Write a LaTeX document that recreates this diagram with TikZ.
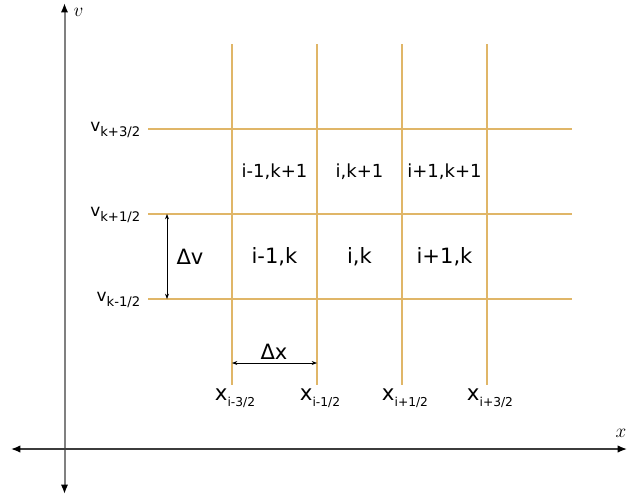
\documentclass[tikz,border=0pt]{standalone}
\usepackage{fontspec}
\setmainfont{DejaVu Sans}
\usetikzlibrary{arrows.meta}
\definecolor{gridc}{RGB}{224,182,104}
\definecolor{axv}{RGB}{128,128,128}
\definecolor{axh}{RGB}{60,60,60}
\newcommand\vlab[1]{\fontsize{12.7}{14}\selectfont v\raisebox{-.5ex}{\fontsize{9.9}{11}\selectfont #1}}
\newcommand\xlab[1]{\fontsize{16}{18}\selectfont x\raisebox{-.5ex}{\fontsize{9.2}{11}\selectfont #1}}
\tikzset{gl/.style={draw=gridc,line width=0.85pt},ax/.style={{Latex[length=7pt,width=5.5pt,black]}-{Latex[length=7pt,width=5.5pt,black]}},dm/.style={{Stealth[length=4pt,width=3pt]}-{Stealth[length=4pt,width=3pt]},line width=0.5pt},big/.style={font=\fontsize{15.8}{18}\selectfont},sm/.style={font=\fontsize{13.5}{16}\selectfont}}

\begin{document}
\begin{tikzpicture}[x=0.75pt,y=-0.75pt]
\useasboundingbox (0,0) rectangle (628,497);
% axes
\coordinate(vb)at(64.5,494);\coordinate(vt)at(64.5,3);
\coordinate(xl)at(11,449);\coordinate(xr)at(627,449);
\draw[ax,axv,line width=1.5pt](vb)--(vt);\draw[ax,axh,line width=1pt](xl)--(xr);
\node[anchor=west,font=\fontsize{14}{15}\selectfont](vax)at(69,12){$v$};
\node[anchor=east,inner sep=1pt,font=\fontsize{14}{15}\selectfont](xax)at(628,433){$x$};
% grid lines
\foreach\y/\n in{129/a,214/b,299/c}{\coordinate(h\n1)at(148,\y);\coordinate(h\n2)at(572,\y);\draw[gl](h\n1)--(h\n2);}
\foreach\x/\n in{232/a,317/b,402/c,487/d}{\coordinate(v\n1)at(\x,44);\coordinate(v\n2)at(\x,385);\draw[gl](v\n1)--(v\n2);}
% grid labels
\node[anchor=east](va)at(145,130){\vlab{k+3/2}};\node[anchor=east](vb2)at(145,215){\vlab{k+1/2}};
\node[anchor=east](vc)at(145,300){\vlab{k-1/2}};
\node(xa)at(235,398){\xlab{i-3/2}};\node(xb)at(320,398){\xlab{i-1/2}};
\node(xc)at(405,398){\xlab{i+1/2}};\node(xd)at(490,398){\xlab{i+3/2}};
% cells
\node[sm](c11)at(274.5,172){i-1,k+1};\node[sm](c21)at(359.5,172){i,k+1};\node[sm](c31)at(444.5,172){i+1,k+1};
\node[big](c10)at(274.5,257){i-1,k};\node[big](c20)at(359.5,257){i,k};\node[big](c30)at(444.5,257){i+1,k};
% spacings
\coordinate(dv1)at(167,214);\coordinate(dv2)at(167,299);\draw[dm](dv1)--(dv2);
\node[big](dv)at(190,257){Δv};
\coordinate(dx1)at(232,363);\coordinate(dx2)at(317,363);\draw[dm](dx1)--(dx2);
\node[big](dx)at(274,352){Δx};
\end{tikzpicture}
\end{document}
